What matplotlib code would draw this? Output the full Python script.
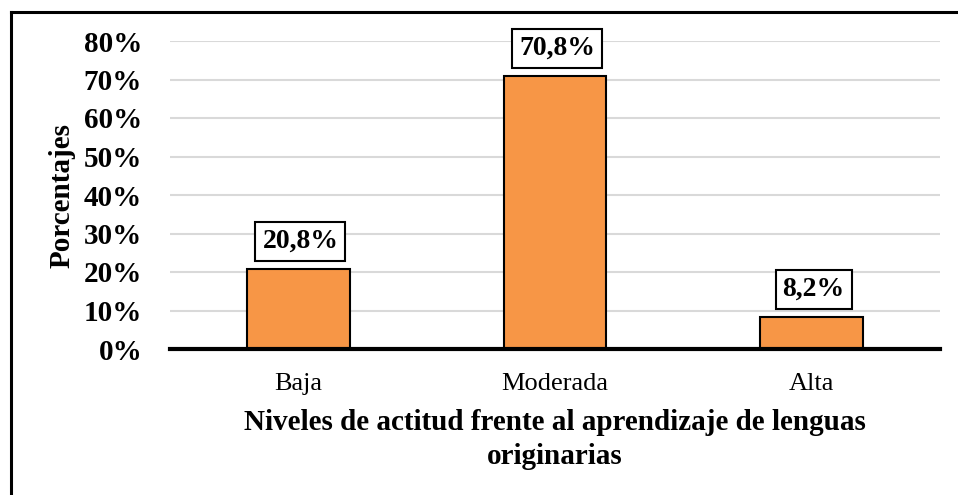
import matplotlib
matplotlib.use("Agg")
import matplotlib.pyplot as plt
from matplotlib.lines import Line2D

categories = ["Baja", "Moderada", "Alta"]
values = [20.8, 70.8, 8.2]
labels = ["20,8%", "70,8%", "8,2%"]
yticks = [0, 10, 20, 30, 40, 50, 60, 70, 80]
ytick_labels = ["0%", "10%", "20%", "30%", "40%", "50%", "60%", "70%", "80%"]

plt.rcParams['font.family'] = ['Liberation Serif', 'DejaVu Serif']

W, H = 958, 495
fig = plt.figure(figsize=(W/100, H/100), dpi=100)
ax = fig.add_axes([170/W, (H-349)/H, 770/W, (349-41)/H])

x = list(range(len(categories)))
ax.bar(x, values, width=0.4, color="#F79646", edgecolor="black", linewidth=1.5, zorder=3)
ax.set_xlim(-0.5, 2.5)
ax.set_ylim(0, 80)
ax.set_yticks(yticks)
ax.set_yticklabels(ytick_labels, fontsize=21, fontweight="bold")
ax.set_xticks(x)
ax.set_xticklabels(categories, fontsize=19)
ax.tick_params(axis="y", length=0, pad=20)
ax.tick_params(axis="x", length=0, pad=17.5)
ax.grid(axis="y", color="#d9d9d9", linewidth=1.5, zorder=0)
for s in ["top", "right", "left"]:
    ax.spines[s].set_visible(False)
ax.spines["bottom"].set_linewidth(3)
ax.spines["bottom"].set_zorder(4)

for xi, v, lab in zip(x, values, labels):
    ax.annotate(lab, (xi, v), xytext=(1.5, 20), textcoords="offset points",
                ha="center", va="center", fontsize=20, fontweight="bold",
                bbox=dict(boxstyle="square,pad=0.25", fc="white", ec="black", lw=1.5),
                zorder=5)

fig.text(555/W, 1-422/H, "Niveles de actitud frente al aprendizaje de lenguas",
         ha="center", va="center", fontsize=21, fontweight="bold")
fig.text(555/W, 1-457/H, "originarias",
         ha="center", va="center", fontsize=21, fontweight="bold")
fig.text(62/W, 1-195/H, "Porcentajes", rotation=90, ha="center", va="center",
         fontsize=21, fontweight="bold")

# figure border (left and top)
fig.add_artist(Line2D([10.5/W, 10.5/W], [0, 1-11.5/H], transform=fig.transFigure, color="black", lw=2.2))
fig.add_artist(Line2D([10.5/W, 1], [1-11.5/H, 1-11.5/H], transform=fig.transFigure, color="black", lw=2.2))

fig.savefig("out.png", dpi=100)
